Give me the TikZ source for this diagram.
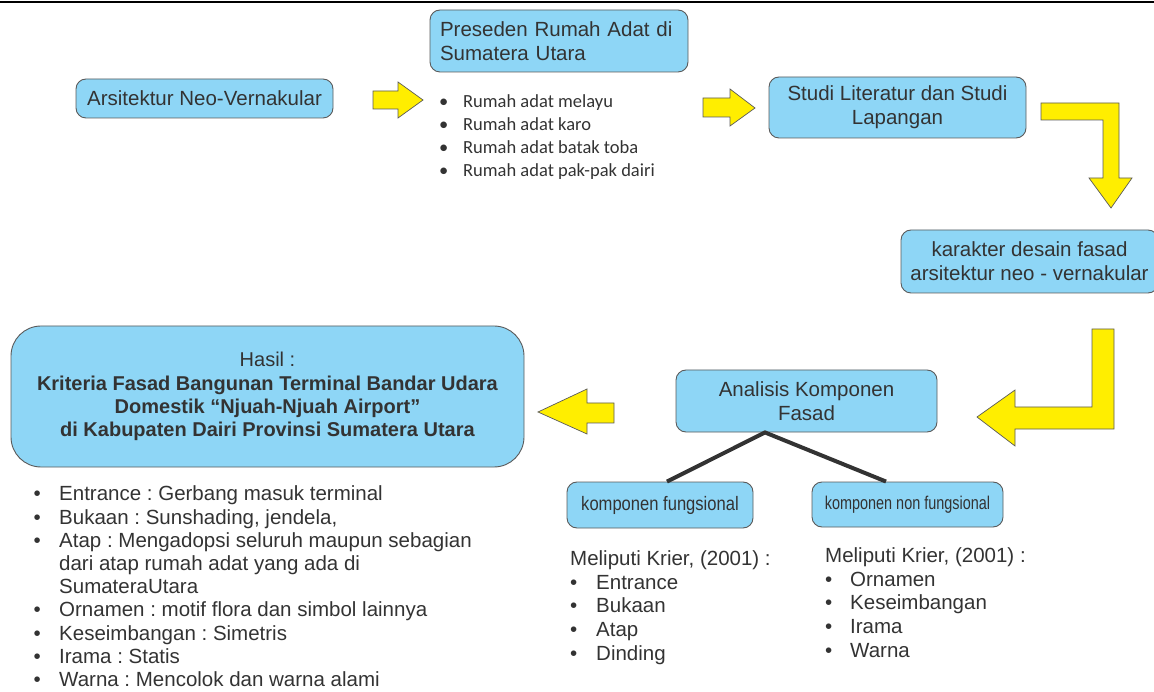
\documentclass[tikz,border=0pt]{standalone}
\usepackage{fontspec}
\usepackage{graphicx}
\setmainfont{Liberation Sans}
\newfontfamily\calfont{Carlito}
\definecolor{boxblue}{HTML}{8ED6F6}
\definecolor{boxline}{HTML}{5A5A5A}
\definecolor{txtgray}{HTML}{333333}
\definecolor{arrowyellow}{HTML}{FFEE00}
\newcommand{\bul}[1]{\makebox[#1][l]{•}}
\frenchspacing
\begin{document}
\begin{tikzpicture}[x=1pt,y=-1pt,
  box/.style={draw=boxline, line width=0.9pt, fill=boxblue, rounded corners=10pt,
    inner sep=0pt, align=center, text=txtgray, font=\fontsize{20.5}{24}\selectfont},
  blockarrow/.style={draw=boxline, line width=0.7pt, fill=arrowyellow, line join=miter},
  list/.style={inner sep=0pt, anchor=north west, align=left, text=txtgray},
  link/.style={draw=txtgray, line width=4pt, line join=miter}]
\useasboundingbox (0,0) rectangle (1154,692);
\draw[line width=2.5pt] (0,2) -- (1154,2);

% boxes
\node[box, minimum width=257pt, minimum height=39pt] (neo) at (204.5,98.5) {Arsitektur Neo-Vernakular};
\node[box, minimum width=258pt, minimum height=62pt, text width=238pt, align=left] (preseden) at (559,41) {Preseden Rumah Adat di\\Sumatera Utara};
\node[box, minimum width=257pt, minimum height=61pt] (studi) at (897.5,107.5) {Studi Literatur dan Studi\\Lapangan};
\node[box, minimum width=257pt, minimum height=63pt] (karakter) at (1029.5,261.5) {karakter desain fasad\\arsitektur neo - vernakular};
\node[box, rounded corners=30pt, minimum width=513pt, minimum height=141pt, font=\fontsize{20}{23.3}\selectfont] (hasil) at (267.5,396.5)
  {Hasil :\\\textbf{Kriteria Fasad Bangunan Terminal Bandar Udara}\\\textbf{Domestik “Njuah-Njuah Airport”}\\\textbf{di Kabupaten Dairi Provinsi Sumatera Utara}};
\node[box, minimum width=261pt, minimum height=62pt] (analisis) at (806.5,401) {Analisis Komponen\\Fasad};
\node[box, minimum width=186pt, minimum height=46pt, font=\fontsize{19.5}{22}\selectfont] (fung) at (660,505) {\scalebox{0.85}[1]{komponen fungsional}};
\node[box, minimum width=191pt, minimum height=45pt, font=\fontsize{18.5}{22}\selectfont] (nonfung) at (907.5,504.5) {\scalebox{0.78}[1]{komponen non fungsional}};

% tree connectors
\draw[link] ([xshift=7pt]fung.north) -- ([xshift=-41.5pt]analisis.south) -- ([xshift=-21.5pt]nonfung.north);

% block arrows
\draw[blockarrow] (373,91) -- (398,91) -- (398,82) -- (423,100) -- (398,118) -- (398,109) -- (373,109) -- cycle;
\draw[blockarrow] (703,98) -- (730,98) -- (730,89) -- (755,108) -- (730,126) -- (730,117) -- (703,117) -- cycle;
\draw[blockarrow] (1041,103) -- (1119,103) -- (1119,178) -- (1132,178) -- (1111,208) -- (1089,178) -- (1103,178) -- (1103,120) -- (1041,120) -- cycle;
\draw[blockarrow] (1092,329) -- (1114,329) -- (1114,429) -- (1015,429) -- (1015,446) -- (977,417) -- (1015,390) -- (1015,407) -- (1092,407) -- cycle;
\draw[blockarrow] (614,403) -- (587,403) -- (587,389) -- (538,412) -- (587,434) -- (587,423) -- (614,423) -- cycle;

% lists
\node[list, font=\calfont\fontsize{18.5}{23}\selectfont] (adat) at (439,91)
  {\strut\bul{24pt}Rumah adat melayu\\\bul{24pt}Rumah adat karo\\\bul{24pt}Rumah adat batak toba\\\bul{24pt}Rumah adat pak-pak dairi};
\node[list, font=\fontsize{20.5}{23.2}\selectfont] (kriteria) at (33.4,484.4)
  {\strut\bul{25.6pt}Entrance : Gerbang masuk terminal\\
   \bul{25.6pt}Bukaan : Sunshading, jendela,\\
   \bul{25.6pt}Atap : Mengadopsi seluruh maupun sebagian\\
   \hspace*{25.6pt}dari atap rumah adat yang ada di\\
   \hspace*{25.6pt}SumateraUtara\\
   \bul{25.6pt}Ornamen : motif flora dan simbol lainnya\\
   \bul{25.6pt}Keseimbangan : Simetris\\
   \bul{25.6pt}Irama : Statis\\
   \bul{25.6pt}Warna : Mencolok dan warna alami};
\node[list, font=\fontsize{20.5}{23.8}\selectfont] (fungitems) at (570,548.4)
  {\strut Meliputi Krier, (2001) :\\\bul{26pt}Entrance\\\bul{26pt}Bukaan\\\bul{26pt}Atap\\\bul{26pt}Dinding};
\node[list, font=\fontsize{20.5}{23.8}\selectfont] (nonfungitems) at (825,545.4)
  {\strut Meliputi Krier, (2001) :\\\bul{25pt}Ornamen\\\bul{25pt}Keseimbangan\\\bul{25pt}Irama\\\bul{25pt}Warna};
\end{tikzpicture}
\end{document}
